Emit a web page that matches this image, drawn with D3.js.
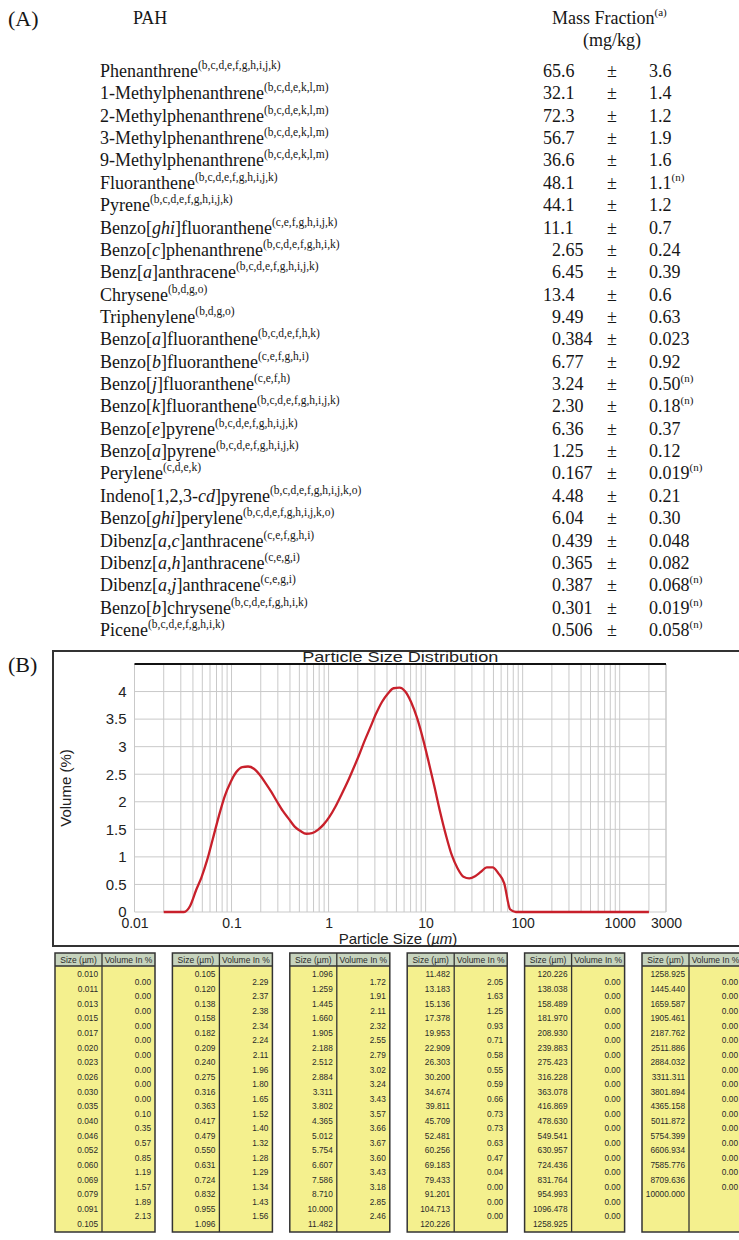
<!DOCTYPE html>
<html>
<head>
<meta charset="utf-8">
<script src="https://cdn.jsdelivr.net/npm/d3@7"></script>
<style>
  body { margin: 0; background: #fff; }
  svg { display: block; }
</style>
</head>
<body>
<div id="fig"></div>
<script>
// ---------- (A) PAH mass fractions ----------
// underscores mark the italic part of a name
var pahNames = ["Phenanthrene", "1-Methylphenanthrene", "2-Methylphenanthrene",
  "3-Methylphenanthrene", "9-Methylphenanthrene", "Fluoranthene", "Pyrene",
  "Benzo[_ghi_]fluoranthene", "Benzo[_c_]phenanthrene", "Benz[_a_]anthracene",
  "Chrysene", "Triphenylene", "Benzo[_a_]fluoranthene", "Benzo[_b_]fluoranthene",
  "Benzo[_j_]fluoranthene", "Benzo[_k_]fluoranthene", "Benzo[_e_]pyrene",
  "Benzo[_a_]pyrene", "Perylene", "Indeno[1,2,3-_cd_]pyrene", "Benzo[_ghi_]perylene",
  "Dibenz[_a,c_]anthracene", "Dibenz[_a,h_]anthracene", "Dibenz[_a,j_]anthracene",
  "Benzo[_b_]chrysene", "Picene"];
var pahNotes = ["b,c,d,e,f,g,h,i,j,k", "b,c,d,e,k,l,m", "b,c,d,e,k,l,m", "b,c,d,e,k,l,m",
  "b,c,d,e,k,l,m", "b,c,d,e,f,g,h,i,j,k", "b,c,d,e,f,g,h,i,j,k", "c,e,f,g,h,i,j,k",
  "b,c,d,e,f,g,h,i,k", "b,c,d,e,f,g,h,i,j,k", "b,d,g,o", "b,d,g,o", "b,c,d,e,f,h,k",
  "c,e,f,g,h,i", "c,e,f,h", "b,c,d,e,f,g,h,i,j,k", "b,c,d,e,f,g,h,i,j,k",
  "b,c,d,e,f,g,h,i,j,k", "c,d,e,k", "b,c,d,e,f,g,h,i,j,k,o", "b,c,d,e,f,g,h,i,j,k,o",
  "c,e,f,g,h,i", "c,e,g,i", "c,e,g,i", "b,c,d,e,f,g,h,i,k", "b,c,d,e,f,g,h,i,k"];
var massValues = ["65.6", "32.1", "72.3", "56.7", "36.6", "48.1", "44.1", "11.1", "2.65",
  "6.45", "13.4", "9.49", "0.384", "6.77", "3.24", "2.30", "6.36", "1.25", "0.167",
  "4.48", "6.04", "0.439", "0.365", "0.387", "0.301", "0.506"];
var massUnc = ["3.6", "1.4", "1.2", "1.9", "1.6", "1.1", "1.2", "0.7", "0.24", "0.39",
  "0.6", "0.63", "0.023", "0.92", "0.50", "0.18", "0.37", "0.12", "0.019", "0.21",
  "0.30", "0.048", "0.082", "0.068", "0.019", "0.058"];
var uncNote = ["", "", "", "", "", "n", "", "", "", "", "", "", "", "", "n", "n", "", "",
  "n", "", "", "", "", "n", "n", "n"];

// ---------- (B) particle size distribution curve ----------
var curveSize = [0.02, 0.0324, 0.0374, 0.043, 0.049, 0.056, 0.064, 0.074, 0.085, 0.098,
  0.112, 0.129, 0.148, 0.170, 0.195, 0.224, 0.257, 0.295, 0.339, 0.389, 0.447, 0.513,
  0.589, 0.676, 0.776, 0.891, 1.023, 1.175, 1.349, 1.549, 1.778, 2.042, 2.344, 2.692,
  3.090, 3.548, 4.074, 4.677, 5.370, 6.166, 7.079, 8.128, 9.333, 10.72, 12.30, 14.13,
  16.22, 18.62, 21.38, 24.55, 28.18, 32.36, 37.15, 42.66, 48.98, 56.23, 64.57, 74.13,
  85.11, 2000];
var curveVolume = [0, 0, 0.11, 0.39, 0.63, 0.94, 1.32, 1.74, 2.10, 2.36,
  2.54, 2.63, 2.64, 2.60, 2.49, 2.34, 2.18, 2.00, 1.83, 1.69, 1.55, 1.47,
  1.42, 1.43, 1.49, 1.59, 1.73, 1.91, 2.12, 2.34, 2.58, 2.83, 3.10, 3.35,
  3.60, 3.81, 3.96, 4.06, 4.07, 4.00, 3.81, 3.53, 3.16, 2.73, 2.28, 1.81,
  1.39, 1.03, 0.79, 0.64, 0.61, 0.65, 0.73, 0.81, 0.81, 0.70, 0.52, 0.05,
  0, 0];
var yTicks = [0, 0.5, 1, 1.5, 2, 2.5, 3, 3.5, 4];
var xTickVals = [0.01, 0.1, 1, 10, 100, 1000, 3000];
var xTickLabels = ["0.01", "0.1", "1", "10", "100", "1000", "3000"];

// ---------- (B) result tables ----------
var sizes1 = ["0.010", "0.011", "0.013", "0.015", "0.017", "0.020", "0.023", "0.026", "0.030",
  "0.035", "0.040", "0.046", "0.052", "0.060", "0.069", "0.079", "0.091", "0.105"];
var vols1 = ["0.00", "0.00", "0.00", "0.00", "0.00", "0.00", "0.00", "0.00", "0.00", "0.10",
  "0.35", "0.57", "0.85", "1.19", "1.57", "1.89", "2.13"];
var sizes2 = ["0.105", "0.120", "0.138", "0.158", "0.182", "0.209", "0.240", "0.275", "0.316",
  "0.363", "0.417", "0.479", "0.550", "0.631", "0.724", "0.832", "0.955", "1.096"];
var vols2 = ["2.29", "2.37", "2.38", "2.34", "2.24", "2.11", "1.96", "1.80", "1.65", "1.52",
  "1.40", "1.32", "1.28", "1.29", "1.34", "1.43", "1.56"];
var sizes3 = ["1.096", "1.259", "1.445", "1.660", "1.905", "2.188", "2.512", "2.884", "3.311",
  "3.802", "4.365", "5.012", "5.754", "6.607", "7.586", "8.710", "10.000", "11.482"];
var vols3 = ["1.72", "1.91", "2.11", "2.32", "2.55", "2.79", "3.02", "3.24", "3.43", "3.57",
  "3.66", "3.67", "3.60", "3.43", "3.18", "2.85", "2.46"];
var sizes4 = ["11.482", "13.183", "15.136", "17.378", "19.953", "22.909", "26.303", "30.200",
  "34.674", "39.811", "45.709", "52.481", "60.256", "69.183", "79.433", "91.201", "104.713",
  "120.226"];
var vols4 = ["2.05", "1.63", "1.25", "0.93", "0.71", "0.58", "0.55", "0.59", "0.66", "0.73",
  "0.73", "0.63", "0.47", "0.04", "0.00", "0.00", "0.00"];
var sizes5 = ["120.226", "138.038", "158.489", "181.970", "208.930", "239.883", "275.423",
  "316.228", "363.078", "416.869", "478.630", "549.541", "630.957", "724.436", "831.764",
  "954.993", "1096.478", "1258.925"];
var vols5 = ["0.00", "0.00", "0.00", "0.00", "0.00", "0.00", "0.00", "0.00", "0.00", "0.00",
  "0.00", "0.00", "0.00", "0.00", "0.00", "0.00", "0.00"];
var sizes6 = ["1258.925", "1445.440", "1659.587", "1905.461", "2187.762", "2511.886",
  "2884.032", "3311.311", "3801.894", "4365.158", "5011.872", "5754.399", "6606.934",
  "7585.776", "8709.636", "10000.000"];
var vols6 = ["0.00", "0.00", "0.00", "0.00", "0.00", "0.00", "0.00", "0.00", "0.00", "0.00",
  "0.00", "0.00", "0.00", "0.00", "0.00"];

var tableSizes = [sizes1, sizes2, sizes3, sizes4, sizes5, sizes6];
var tableVols = [vols1, vols2, vols3, vols4, vols5, vols6];

var W = 739, H = 1240;
var serif = "'Liberation Serif', 'Times New Roman', serif";
var sans = "'Liberation Sans', Arial, sans-serif";
var ink = "#161616";

var svg = d3.select("#fig").append("svg")
  .attr("width", W).attr("height", H)
  .style("background", "#fff");

//==================== (A) table ====================
var partA = svg.append("g").attr("font-family", serif).attr("fill", ink);

partA.append("text").attr("x", 8).attr("y", 26).attr("font-size", 22).text("(A)");
partA.append("text").attr("x", 133).attr("y", 24).attr("font-size", 18).text("PAH");
var mf = partA.append("text").attr("x", 552).attr("y", 24).attr("font-size", 18);
mf.append("tspan").text("Mass Fraction");
mf.append("tspan").attr("dy", -8).attr("font-size", 11).text("(a)");
partA.append("text").attr("x", 612).attr("y", 46).attr("font-size", 18)
  .attr("text-anchor", "middle").text("(mg/kg)");

var rowY = d3.scaleLinear().domain([0, pahNames.length - 1]).range([77, 636]);
var decimalX = 561, pmX = 612, uncX = 649;

var rows = partA.selectAll("g.row").data(pahNames).join("g").attr("class", "row");

rows.each(function (name, i) {
  var g = d3.select(this);
  var y = rowY(i);
  var t = g.append("text").attr("x", 100).attr("y", y).attr("font-size", 18);
  name.split("_").forEach(function (part, k) {
    t.append("tspan").text(part).style("font-style", k % 2 ? "italic" : "normal");
  });
  t.append("tspan").attr("dy", -8).attr("font-size", 11.5).text("(" + pahNotes[i] + ")");

  // numbers line up on the decimal point
  var intLen = massValues[i].split(".")[0].length;
  g.append("text").attr("x", decimalX - 9 * intLen).attr("y", y)
    .attr("font-size", 18).text(massValues[i]);
  g.append("text").attr("x", pmX).attr("y", y).attr("font-size", 18)
    .attr("text-anchor", "middle").text("\u00B1");
  var u = g.append("text").attr("x", uncX).attr("y", y).attr("font-size", 18);
  u.append("tspan").text(massUnc[i]);
  if (uncNote[i]) {
    u.append("tspan").attr("dy", -8).attr("font-size", 11).text("(" + uncNote[i] + ")");
  }
});

//==================== (B) chart ====================
svg.append("text").attr("x", 8).attr("y", 672)
  .attr("font-family", serif).attr("font-size", 22).attr("fill", ink).text("(B)");

// frame around the chart (runs off the right edge)
svg.append("path")
  .attr("d", "M" + (W + 5) + ",651 H53 V946 H" + (W + 5))
  .attr("fill", "none").attr("stroke", "#333").attr("stroke-width", 2);

var x = d3.scaleLog().domain([0.01, 3000]).range([134.5, 666]);
var y = d3.scaleLinear().domain([0, 4.5]).range([912, 664]);

var grid = svg.append("g").attr("stroke", "#c9c9c9").attr("stroke-width", 1);
grid.selectAll("line.v").data(x.ticks().concat([3000])).join("line")
  .attr("class", "v")
  .attr("x1", function (d) { return x(d); }).attr("x2", function (d) { return x(d); })
  .attr("y1", y(4.5)).attr("y2", y(0));
grid.selectAll("line.h").data(yTicks).join("line")
  .attr("class", "h")
  .attr("x1", x(0.01)).attr("x2", x(3000))
  .attr("y1", function (d) { return y(d); }).attr("y2", function (d) { return y(d); });

// heavy line at the top of the plot
svg.append("line")
  .attr("x1", x(0.01)).attr("x2", x(3000))
  .attr("y1", y(4.5)).attr("y2", y(4.5))
  .attr("stroke", "#111").attr("stroke-width", 2);

svg.append("text").attr("x", (x(0.01) + x(3000)) / 2).attr("y", 662)
  .attr("font-family", sans).attr("font-size", 15).attr("fill", "#222")
  .attr("text-anchor", "middle")
  .attr("textLength", 196).attr("lengthAdjust", "spacingAndGlyphs")
  .text("Particle Size Distribution");

var yAxis = svg.append("g").attr("transform", "translate(" + x(0.01) + ",0)")
  .call(d3.axisLeft(y).tickValues(yTicks).tickSize(0).tickPadding(8)
    .tickFormat(function (d) { return String(d); }));
yAxis.select(".domain").remove();
yAxis.selectAll("text").attr("font-family", sans).attr("font-size", 15).attr("fill", "#222");

var xAxis = svg.append("g").attr("transform", "translate(0," + y(0) + ")")
  .call(d3.axisBottom(x).tickValues(xTickVals).tickSize(0).tickPadding(6)
    .tickFormat(function (d, i) { return xTickLabels[i]; }));
xAxis.select(".domain").remove();
xAxis.selectAll("text").attr("font-family", sans).attr("font-size", 14).attr("fill", "#222");

var xt = svg.append("text").attr("x", 398).attr("y", 944)
  .attr("font-family", sans).attr("font-size", 15).attr("fill", "#222")
  .attr("text-anchor", "middle");
xt.append("tspan").text("Particle Size (");
xt.append("tspan").style("font-style", "italic").text("\u00B5m");
xt.append("tspan").text(")");

svg.append("text")
  .attr("transform", "translate(71," + ((y(0) + y(4.5)) / 2) + ") rotate(-90)")
  .attr("font-family", sans).attr("font-size", 15).attr("fill", "#222")
  .attr("text-anchor", "middle").text("Volume (%)");

var curveData = curveSize.map(function (s, i) { return [s, curveVolume[i]]; });
var line = d3.line()
  .x(function (d) { return x(d[0]); })
  .y(function (d) { return y(d[1]); })
  .curve(d3.curveMonotoneX);
svg.append("path").datum(curveData)
  .attr("d", line)
  .attr("fill", "none").attr("stroke", "#c8202b").attr("stroke-width", 2.3)
  .attr("stroke-linejoin", "round");

//==================== (B) result tables ====================
var tblX = d3.scaleLinear().domain([0, 5]).range([55, 642]);
var tblW = 100, sizeColW = 47;
var headTop = 953, bodyTop = 966, bodyBot = 1232;
var rowScale = d3.scaleLinear().domain([0, 17]).range([974.3, 1223.7]);

var tables = svg.selectAll("g.tbl").data(tableSizes).join("g")
  .attr("class", "tbl")
  .attr("transform", function (d, i) { return "translate(" + tblX(i) + ",0)"; })
  .attr("font-family", sans);

tables.append("rect").attr("x", 0).attr("y", bodyTop)
  .attr("width", tblW).attr("height", bodyBot - bodyTop).attr("fill", "#f4f08e");
tables.append("rect").attr("x", 0).attr("y", headTop)
  .attr("width", tblW).attr("height", bodyTop - headTop).attr("fill", "#c6d3bd");
tables.append("rect").attr("x", 0).attr("y", headTop)
  .attr("width", tblW).attr("height", bodyBot - headTop)
  .attr("fill", "none").attr("stroke", "#333").attr("stroke-width", 1.5);
tables.append("line").attr("x1", sizeColW).attr("x2", sizeColW)
  .attr("y1", headTop).attr("y2", bodyBot).attr("stroke", "#333").attr("stroke-width", 1.3);
tables.append("line").attr("x1", 0).attr("x2", tblW)
  .attr("y1", bodyTop).attr("y2", bodyTop).attr("stroke", "#333").attr("stroke-width", 1.3);

tables.append("text").attr("x", sizeColW / 2).attr("y", 962.5)
  .attr("text-anchor", "middle").attr("font-size", 8.5).attr("fill", "#2a2a2a")
  .text("Size (\u00B5m)");
tables.append("text").attr("x", (sizeColW + tblW) / 2).attr("y", 962.5)
  .attr("text-anchor", "middle").attr("font-size", 8.5).attr("fill", "#2a2a2a")
  .text("Volume In %");

tables.each(function (sizes, ti) {
  var g = d3.select(this);
  g.selectAll("text.sz").data(sizes).join("text").attr("class", "sz")
    .attr("x", sizeColW - 4)
    .attr("y", function (d, i) { return rowScale(i) + 3; })
    .attr("text-anchor", "end").attr("font-size", 8.3).attr("fill", "#2a2a2a")
    .text(function (d) { return d; });
  g.selectAll("text.vl").data(tableVols[ti]).join("text").attr("class", "vl")
    .attr("x", tblW - 4)
    .attr("y", function (d, i) { return rowScale(i + 0.5) + 3; })
    .attr("text-anchor", "end").attr("font-size", 8.3).attr("fill", "#2a2a2a")
    .text(function (d) { return d; });
});
</script>
</body>
</html>
